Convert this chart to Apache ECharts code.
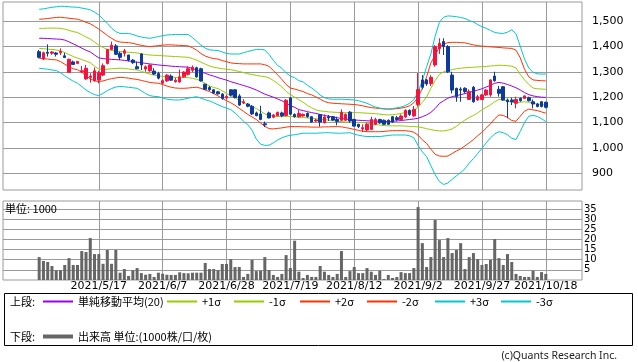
<!DOCTYPE html>
<html><head><meta charset="utf-8">
<script src="https://cdn.jsdelivr.net/npm/echarts@6.0.0/dist/echarts.min.js"></script>
<style>html,body{margin:0;padding:0;background:#fff}#c{width:638px;height:362px}</style>
</head><body><div id="c"></div>
<script>
const dates = ['2021/4/21','2021/4/22','2021/4/23','2021/4/26','2021/4/27','2021/4/28','2021/4/30',
'2021/5/6','2021/5/7','2021/5/10','2021/5/11','2021/5/12','2021/5/13','2021/5/14','2021/5/17','2021/5/18','2021/5/19','2021/5/20','2021/5/21','2021/5/24','2021/5/25','2021/5/26','2021/5/27','2021/5/28','2021/5/31',
'2021/6/1','2021/6/2','2021/6/3','2021/6/4','2021/6/7','2021/6/8','2021/6/9','2021/6/10','2021/6/11','2021/6/14','2021/6/15','2021/6/16','2021/6/17','2021/6/18','2021/6/21','2021/6/22','2021/6/23','2021/6/24','2021/6/25','2021/6/28','2021/6/29','2021/6/30',
'2021/7/1','2021/7/2','2021/7/5','2021/7/6','2021/7/7','2021/7/8','2021/7/9','2021/7/12','2021/7/13','2021/7/14','2021/7/15','2021/7/16','2021/7/19','2021/7/20','2021/7/21','2021/7/26','2021/7/27','2021/7/28','2021/7/29','2021/7/30',
'2021/8/2','2021/8/3','2021/8/4','2021/8/5','2021/8/6','2021/8/10','2021/8/11','2021/8/12','2021/8/13','2021/8/16','2021/8/17','2021/8/18','2021/8/19','2021/8/20','2021/8/23','2021/8/24','2021/8/25','2021/8/26','2021/8/27','2021/8/30','2021/8/31',
'2021/9/1','2021/9/2','2021/9/3','2021/9/6','2021/9/7','2021/9/8','2021/9/9','2021/9/10','2021/9/13','2021/9/14','2021/9/15','2021/9/16','2021/9/17','2021/9/21','2021/9/22','2021/9/24','2021/9/27','2021/9/28','2021/9/29','2021/9/30',
'2021/10/1','2021/10/4','2021/10/5','2021/10/6','2021/10/7','2021/10/8','2021/10/11','2021/10/12','2021/10/13','2021/10/14','2021/10/15','2021/10/18'];

const labelDates = ['2021/5/17','2021/6/7','2021/6/28','2021/7/19','2021/8/12','2021/9/2','2021/9/27','2021/10/18'];

const open = [1379,1350,1377,1373,1374,1375,1363,1298,1339,1333,
1300,1272,1278,1265,1268,1287,1333,1388,1402,1373,
1373,1366,1346,1320,1370,1311,1304,1303,1293,1255,
1264,1283,1261,1260,1280,1290,1306,1316,1312,1251,
1238,1229,1221,1212,1197,1229,1229,1205,1177,1173,
1164,1138,1134,1095,1138,1121,1127,1138,1128,1197,
1132,1123,1126,1136,1123,1106,1131,1099,1123,1123,
1112,1109,1109,1141,1112,1093,1075,1071,1073,1093,
1112,1109,1109,1123,1119,1112,1122,1148,1126,1171,
1268,1268,1254,1327,1392,1419,1399,1287,1235,1232,
1235,1191,1239,1189,1191,1209,1209,1283,1231,1241,
1189,1189,1176,1195,1195,1198,1182,1173,1182,1180];
const close = [1357,1375,1373,1378,1369,1380,1356,1349,1329,1341,
1304,1314,1283,1304,1296,1324,1388,1405,1369,1357,
1383,1346,1336,1312,1327,1320,1327,1291,1275,1265,
1287,1267,1267,1280,1299,1312,1318,1280,1264,1231,
1229,1216,1213,1195,1203,1208,1199,1169,1182,1164,
1134,1127,1112,1091,1118,1130,1140,1127,1188,1133,
1123,1136,1132,1123,1102,1110,1102,1122,1118,1110,
1105,1141,1132,1106,1086,1084,1080,1093,1112,1112,
1099,1093,1093,1102,1112,1126,1148,1132,1152,1230,
1239,1252,1278,1399,1412,1399,1300,1228,1202,1228,
1222,1222,1182,1202,1209,1228,1268,1265,1215,1189,
1182,1182,1191,1186,1205,1186,1173,1163,1163,1160];
const low = [1353,1346,1360,1367,1360,1366,1356,1296,1329,1332,
1296,1268,1257,1261,1254,1283,1329,1385,1366,1346,
1360,1340,1331,1310,1307,1300,1300,1287,1270,1250,
1260,1264,1257,1257,1276,1286,1299,1276,1262,1229,
1225,1212,1210,1190,1192,1203,1195,1166,1173,1160,
1130,1125,1109,1082,1117,1117,1125,1121,1125,1130,
1119,1119,1123,1119,1099,1102,1084,1097,1106,1106,
1089,1106,1106,1099,1084,1078,1063,1065,1070,1090,
1095,1090,1090,1099,1106,1106,1119,1126,1123,1163,
1231,1245,1244,1320,1370,1366,1295,1215,1182,1182,
1215,1189,1178,1186,1189,1205,1202,1261,1202,1186,
1117,1169,1156,1182,1194,1183,1156,1160,1160,1156];
const high = [1386,1379,1408,1382,1378,1392,1375,1352,1344,1342,
1323,1327,1294,1317,1304,1333,1390,1419,1409,1379,
1390,1367,1350,1340,1373,1325,1328,1314,1300,1270,
1290,1290,1277,1309,1302,1322,1325,1320,1316,1253,
1244,1231,1225,1216,1208,1231,1231,1212,1192,1177,
1169,1143,1166,1104,1143,1134,1143,1143,1192,1200,
1136,1149,1136,1140,1126,1115,1132,1132,1130,1126,
1123,1152,1136,1145,1115,1095,1093,1099,1123,1119,
1115,1112,1112,1126,1126,1132,1152,1152,1165,1295,
1287,1272,1287,1405,1432,1432,1405,1300,1237,1239,
1239,1231,1244,1209,1213,1232,1270,1300,1244,1244,
1195,1198,1202,1199,1207,1202,1191,1176,1185,1182];

const volume = [11.3,9.4,8.9,6.9,4.8,4.8,7.4,10.8,7.4,7.4,
14.3,13.8,20.7,12.8,12.8,8.0,14.8,8.0,14.8,3.6,
5.4,2.0,4.8,5.9,3.4,2.6,3.0,1.5,3.6,3.1,
2.6,2.5,2.5,3.8,3.4,3.3,3.6,3.6,3.6,8.4,
5.4,5.4,4.9,7.9,7.9,10.3,6.4,6.4,1.5,3.0,
9.9,4.4,4.6,11.3,4.9,2.5,1.5,3.0,12.3,5.9,
19.4,4.1,1.0,2.5,1.5,1.5,6.9,4.1,2.5,1.5,
3.0,14.3,1.5,4.4,6.4,3.4,3.4,5.9,4.1,2.5,
4.6,0.5,2.5,1.0,1.5,3.9,3.4,3.4,5.9,36.0,
18.2,6.4,11.3,29.6,19.7,11.3,20.7,13.3,14.8,18.2,
5.4,11.3,13.3,10.3,7.4,7.9,9.9,20.2,10.8,7.4,
12.8,8.9,3.0,2.0,1.5,1.5,4.6,1.5,3.9,3.0];

const sma20 = [1432,1432,1431,1430,1429,1428,1425,1418,1410,1402,
1393,1385,1378,1366,1355,1352,1350,1349,1348,1347,
1345,1343,1340,1338,1336,1333,1331,1329,1327,1325,
1324,1322,1321,1320,1319,1318,1313,1307,1300,1294,
1288,1283,1277,1272,1267,1261,1256,1251,1246,1241,
1235,1228,1220,1212,1206,1200,1193,1186,1176,1166,
1160,1151,1147,1143,1139,1136,1132,1128,1125,1122,
1119,1116,1114,1112,1110,1109,1108,1107,1106,1106,
1105,1104,1104,1105,1106,1108,1110,1112,1114,1117,
1123,1130,1140,1155,1175,1186,1196,1202,1206,1210,
1214,1219,1223,1228,1233,1240,1247,1255,1258,1255,
1250,1244,1237,1228,1218,1210,1205,1202,1200,1199];
const plus1 = [1471,1471,1472,1472,1472,1471,1468,1463,1458,1455,
1446,1437,1429,1417,1405,1396,1388,1384,1381,1380,
1378,1377,1376,1374,1371,1368,1366,1365,1364,1363,
1362,1361,1360,1359,1358,1357,1352,1346,1338,1330,
1323,1318,1315,1312,1310,1308,1305,1301,1297,1292,
1289,1286,1283,1281,1276,1266,1254,1240,1223,1210,
1200,1190,1180,1168,1158,1150,1146,1144,1142,1141,
1140,1139,1139,1139,1139,1139,1138,1137,1136,1135,
1133,1131,1130,1131,1133,1136,1139,1143,1148,1160,
1180,1200,1235,1265,1290,1300,1305,1308,1312,1314,
1316,1317,1318,1319,1320,1321,1323,1324,1326,1325,
1324,1322,1315,1290,1268,1250,1236,1233,1232,1231];
const minus1 = [1392,1391,1389,1388,1386,1382,1376,1368,1360,1354,
1348,1342,1336,1322,1311,1309,1310,1312,1313,1314,
1313,1311,1309,1307,1302,1296,1291,1287,1284,1282,
1280,1279,1278,1278,1277,1277,1274,1270,1264,1254,
1244,1238,1234,1225,1215,1205,1197,1188,1178,1170,
1163,1155,1145,1134,1128,1125,1124,1124,1124,1124,
1123,1121,1120,1118,1117,1115,1114,1112,1110,1107,
1105,1104,1102,1101,1100,1100,1100,1098,1095,1092,
1090,1088,1087,1087,1087,1087,1086,1085,1084,1083,
1080,1076,1072,1069,1067,1067,1070,1075,1085,1098,
1110,1120,1128,1138,1150,1160,1170,1182,1191,1188,
1185,1180,1178,1180,1182,1180,1176,1173,1171,1169];
const plus2 = [1507,1508,1510,1512,1514,1515,1513,1511,1509,1507,
1502,1495,1489,1479,1468,1456,1443,1432,1422,1417,
1416,1415,1412,1408,1404,1401,1399,1401,1403,1405,
1406,1406,1405,1404,1403,1402,1395,1385,1372,1362,
1356,1352,1350,1344,1340,1335,1333,1332,1331,1331,
1331,1331,1331,1328,1321,1305,1288,1270,1250,1236,
1232,1227,1222,1214,1209,1201,1192,1183,1178,1176,
1175,1174,1173,1172,1171,1169,1166,1162,1159,1157,
1155,1154,1153,1153,1155,1157,1160,1166,1178,1200,
1235,1280,1335,1365,1398,1408,1415,1416,1416,1415,
1414,1410,1406,1403,1401,1400,1398,1397,1396,1394,
1393,1392,1385,1355,1310,1280,1268,1266,1265,1264];
const minus2 = [1353,1352,1350,1348,1347,1340,1330,1320,1312,1308,
1298,1284,1272,1265,1261,1264,1269,1273,1276,1278,
1277,1275,1272,1270,1266,1262,1258,1256,1255,1250,
1244,1239,1236,1235,1235,1236,1238,1239,1235,1228,
1222,1214,1205,1195,1186,1178,1168,1156,1144,1132,
1122,1112,1098,1085,1076,1075,1077,1079,1082,1084,
1084,1084,1083,1083,1082,1082,1082,1083,1083,1084,
1084,1083,1080,1077,1073,1069,1066,1064,1064,1064,
1064,1065,1067,1068,1068,1068,1068,1066,1062,1050,
1032,1018,995,975,968,967,968,978,988,996,
1008,1020,1033,1048,1062,1078,1095,1115,1130,1128,
1120,1108,1105,1125,1145,1153,1150,1147,1142,1137];
const plus3 = [1546,1548,1551,1554,1556,1558,1558,1556,1555,1554,
1551,1548,1544,1535,1524,1507,1490,1472,1458,1451,
1451,1451,1447,1441,1437,1434,1432,1435,1439,1442,
1445,1446,1447,1447,1447,1447,1435,1420,1405,1393,
1386,1385,1384,1378,1372,1370,1370,1370,1375,1380,
1384,1388,1388,1386,1368,1345,1325,1314,1296,1283,
1277,1265,1260,1247,1236,1223,1208,1198,1193,1192,
1192,1192,1191,1190,1189,1186,1181,1176,1168,1161,
1157,1154,1153,1155,1158,1161,1167,1176,1190,1220,
1265,1320,1370,1440,1495,1515,1520,1519,1517,1514,
1510,1502,1496,1486,1478,1471,1463,1455,1452,1451,
1456,1465,1450,1400,1350,1315,1298,1292,1291,1291];
const minus3 = [1314,1312,1310,1307,1305,1296,1284,1273,1263,1255,
1242,1228,1218,1210,1206,1215,1226,1234,1240,1242,
1241,1239,1237,1235,1225,1214,1206,1203,1202,1197,
1192,1190,1189,1189,1192,1196,1199,1202,1196,1190,
1185,1178,1170,1163,1157,1151,1138,1122,1105,1091,
1070,1035,1015,1010,1011,1020,1031,1040,1046,1050,
1052,1055,1058,1058,1058,1058,1059,1060,1060,1059,
1058,1058,1059,1060,1054,1050,1047,1045,1045,1045,
1045,1047,1049,1051,1051,1051,1051,1048,1040,1010,
985,966,930,895,868,856,862,876,890,903,
918,940,958,978,998,1020,1040,1055,1064,1060,
1052,1038,1033,1065,1100,1125,1128,1124,1115,1104];

const priceTicks = [900,1000,1100,1200,1300,1400,1500];
const volTicks = [5,10,15,20,25,30,35];

const PAD_L = 8, PAD_R = 8;
const cats = [];
for (let i = 0; i < PAD_L; i++) cats.push('L' + i);
dates.forEach(d => cats.push(d));
for (let i = 0; i < PAD_R; i++) cats.push('R' + i);
const padS = arr => new Array(PAD_L).fill('-').concat(arr);
const ohlc = new Array(PAD_L).fill(['-','-','-','-']).concat(dates.map((d, i) => [open[i], close[i], low[i], high[i]]));

const UP = '#f5123f', DOWN = '#0d3a9c';
const C_SMA = '#9a00ee', C1 = '#99cc00', C2 = '#ff3300', C3 = '#00c8d0';
const GRID = '#9a9a9a';
const NUMF = 'DejaVu Sans';
const JPF = "'Noto Sans CJK JP', sans-serif";
const isLabel = (idx, val) => labelDates.indexOf(val) >= 0;

const lineSeries = (name, data, color) => ({
  name, type: 'line', data: padS(data), xAxisIndex: 0, yAxisIndex: 0,
  showSymbol: false, symbol: 'none', smooth: false, z: 2,
  lineStyle: { color, width: 1 }, itemStyle: { color }, silent: true
});

const legendOf = (name, left, top, h) => ({
  data: [name], left, top, padding: 0, itemWidth: 30, itemHeight: h, icon: 'rect',
  selectedMode: false, textStyle: { fontSize: 11, color: '#000', fontFamily: JPF }
});

const chart = echarts.init(document.getElementById('c'), null, { renderer: 'canvas' });
chart.setOption({
  animation: false,
  backgroundColor: '#fff',
  grid: [
    { left: 3, top: 2, width: 579, height: 188, show: true, borderColor: GRID, borderWidth: 1, backgroundColor: 'transparent' },
    { left: 3, top: 201, width: 579, height: 79, show: true, borderColor: GRID, borderWidth: 1, backgroundColor: 'transparent' }
  ],
  xAxis: [
    { type: 'category', gridIndex: 0, data: cats, boundaryGap: true,
      axisLine: { show: false }, axisTick: { show: false }, axisLabel: { show: false },
      splitLine: { show: true, interval: isLabel, alignWithLabel: true, lineStyle: { color: GRID, width: 1 } } },
    { type: 'category', gridIndex: 1, data: cats, boundaryGap: true,
      axisLine: { show: false }, axisTick: { show: false },
      axisLabel: { show: true, interval: isLabel, margin: 1, fontSize: 11, color: '#000', fontFamily: NUMF },
      splitLine: { show: true, interval: isLabel, alignWithLabel: true, lineStyle: { color: GRID, width: 1 } } }
  ],
  yAxis: [
    { type: 'value', gridIndex: 0, position: 'right', min: 834.3, max: 1574.9, scale: true,
      axisLine: { show: false },
      axisTick: { show: false, customValues: priceTicks },
      axisLabel: { customValues: priceTicks, margin: 10, fontSize: 11, color: '#000', fontFamily: NUMF,
        formatter: v => Number(v).toLocaleString('en-US') },
      splitLine: { show: true, lineStyle: { color: GRID, width: 1 } } },
    { type: 'value', gridIndex: 1, position: 'right', min: 0, max: 39,
      axisLine: { show: false },
      axisTick: { show: false, customValues: volTicks },
      axisLabel: { customValues: volTicks, margin: 2, fontSize: 10, color: '#000', fontFamily: NUMF },
      splitLine: { show: true, lineStyle: { color: GRID, width: 1 } } }
  ],
  legend: [
    legendOf('単純移動平均(20)', 43, 296, 2),
    legendOf('+1σ', 167, 296, 2),
    legendOf('-1σ', 234, 296, 2),
    legendOf('+2σ', 300, 296, 2),
    legendOf('-2σ', 367, 296, 2),
    legendOf('+3σ', 435, 296, 2),
    legendOf('-3σ', 501, 296, 2),
    legendOf('出来高 単位:(1000株/口/枚)', 43, 331, 4)
  ],
  series: [
    lineSeries('単純移動平均(20)', sma20, C_SMA),
    lineSeries('+1σ', plus1, C1),
    lineSeries('-1σ', minus1, C1),
    lineSeries('+2σ', plus2, C2),
    lineSeries('-2σ', minus2, C2),
    lineSeries('+3σ', plus3, C3),
    lineSeries('-3σ', minus3, C3),
    { name: 'ローソク足', type: 'candlestick', xAxisIndex: 0, yAxisIndex: 0, data: ohlc, barWidth: 3, z: 3,
      itemStyle: { color: UP, color0: DOWN, borderColor: UP, borderColor0: DOWN, borderWidth: 1 }, silent: true },
    { name: '出来高 単位:(1000株/口/枚)', type: 'bar', xAxisIndex: 1, yAxisIndex: 1, data: padS(volume),
      barWidth: 3, itemStyle: { color: '#666' }, silent: true }
  ],
  graphic: [
    { type: 'rect', shape: { x: 4.5, y: 293.5, width: 628, height: 52 }, style: { fill: 'none', stroke: '#000', lineWidth: 1 }, silent: true },
    { type: 'text', x: 10, y: 302, style: { text: '上段:', fill: '#000', font: "11px 'Noto Sans CJK JP'", textVerticalAlign: 'middle', verticalAlign: 'middle' } },
    { type: 'text', x: 10, y: 337, style: { text: '下段:', fill: '#000', font: "11px 'Noto Sans CJK JP'", textVerticalAlign: 'middle', verticalAlign: 'middle' } },
    { type: 'text', x: 5, y: 209, z: 10, style: { text: '単位: 1000', fill: '#000', font: "11px 'Noto Sans CJK JP'", textVerticalAlign: 'middle', verticalAlign: 'middle' } },
    { type: 'text', x: 617, y: 356, style: { text: '(c)Quants Research Inc.', fill: '#222', font: "10.5px 'Noto Sans', sans-serif", textAlign: 'right', align: 'right', textVerticalAlign: 'middle', verticalAlign: 'middle' } }
  ]
});
</script></body></html>
